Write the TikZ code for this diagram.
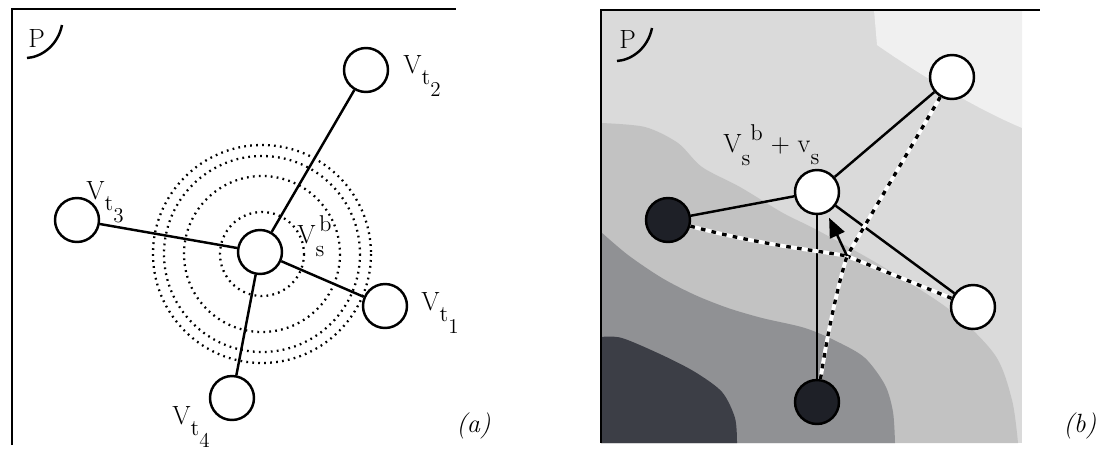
\documentclass[tikz,border=0pt]{standalone}
\usetikzlibrary{arrows.meta}
\definecolor{shadetop}{HTML}{F0F0F0}
\definecolor{shadebase}{HTML}{DADADA}
\definecolor{shadeone}{HTML}{C2C2C2}
\definecolor{shadetwo}{HTML}{909194}
\definecolor{shadethree}{HTML}{3C3E46}
\definecolor{nodeblack}{HTML}{1E2027}
\newcommand{\lblsize}{\fontsize{15}{17}\selectfont}
\newcommand{\subsize}{\fontsize{13}{14}\selectfont}
\newcommand{\subsubsize}{\fontsize{12}{13}\selectfont}
\newcommand{\Vt}[1]{V\raisebox{-6.5pt}{\subsize t\raisebox{-7pt}{\subsubsize #1}}}
\newcommand{\Vsb}[1]{V\rlap{\raisebox{-7.5pt}{\subsize s}}\hspace{#1}\raisebox{6.5pt}{\subsize b}}

\begin{document}
\begin{tikzpicture}[x=0.02cm,y=-0.02cm,
  vert/.style={circle,draw,line width=1.4pt,fill=white,minimum size=0.88cm,inner sep=0pt},
  blackvert/.style={vert,fill=nodeblack},
  link/.style={line width=1.4pt},
  ring/.style={line width=1.3pt,dash pattern=on 1pt off 2.4pt},
  panelline/.style={line width=1.2pt},
  lbl/.style={anchor=base west,inner sep=0pt,font=\lblsize},
  force/.style={preaction={draw=white,solid,line width=2.2pt},line width=1.9pt,dash pattern=on 2.6pt off 3.6pt}]
  \useasboundingbox (0,0) rectangle (1105,457);
  \begin{scope}
    \draw[panelline] (12,445) -- (12,9) -- (456,9);
    \node[lbl] (pa) at (28,47) {P};
    \draw[line width=1.4pt] (27,58) .. controls (42,57) and (58,45) .. (62,25);
    \draw[ring] (262,254) circle[radius=42];
    \draw[ring] (262,254) circle[radius=78];
    \draw[ring] (262,254) circle[radius=98];
    \draw[ring] (262,254) circle[radius=109];
    \node[vert] (vs) at (260,252) {};
    \node[vert] (vt1) at (385,306) {};
    \node[vert] (vt2) at (366,70) {};
    \node[vert] (vt3) at (77,220) {};
    \node[vert] (vt4) at (232,398) {};
    \draw[link] (vs) -- (vt1); \draw[link] (vs) -- (vt2);
    \draw[link] (vs) -- (vt3); \draw[link] (vs) -- (vt4);
    \node[lbl] (lvs) at (297,243) {\Vsb{2pt}};
    \node[lbl] (lt1) at (421,310) {\Vt{1}};
    \node[lbl] (lt2) at (403,73) {\Vt{2}};
    \node[lbl] (lt3) at (86,199) {\Vt{3}};
    \node[lbl] (lt4) at (172,424) {\Vt{4}};
    \node[lbl] (capa) at (456,432) {\textit{(a)}};
  \end{scope}
  \begin{scope}
    \begin{scope}
      \clip (601,10) rectangle (1022,443);
      \fill[shadebase] (601,10) rectangle (1022,443);
      \fill[shadetop] (874,10) -- (877,45) .. controls (920,75) and (975,108) .. (1022,128) -- (1022,10) -- cycle;
      \fill[shadeone] plot[smooth] coordinates {(601,123) (645,127) (678,143) (702,167) (740,187) (783,213) (817,230) (880,265) (950,310) (995,355) (1012,400) (1018,443)} -- (601,443) -- cycle;
      \fill[shadetwo] plot[smooth] coordinates {(601,232) (628,255) (662,278) (695,295) (728,308) (762,318) (805,328) (838,342) (865,358) (885,385) (893,412) (895,443)} -- (601,443) -- cycle;
      \fill[shadethree] plot[smooth] coordinates {(601,337) (622,338) (662,355) (695,372) (722,392) (735,418) (737,443)} -- (601,443) -- cycle;
    \end{scope}
    \draw[panelline] (601,443) -- (601,10) -- (1040,10);
    \node[lbl] (pb) at (619,48) {P};
    \draw[line width=1.4pt] (617,61) .. controls (632,60) and (648,48) .. (652,28);
    \node[vert] (main) at (817,192) {};
    \node[vert] (wnu) at (952,77) {};
    \node[vert] (wnr) at (973,307) {};
    \node[blackvert] (bnl) at (668,220) {};
    \node[blackvert] (bnb) at (817,402) {};
    \coordinate (conv) at (847,256);
    \draw[link] (main) -- (wnu); \draw[link] (main) -- (wnr);
    \draw[link] (main) -- (bnl); \draw[line width=1pt] (main) -- (bnb);
    \draw[force] (wnu) -- (conv);
    \draw[force] (wnr) -- (conv);
    \draw[force] (bnl) .. controls (760,245) and (815,250) .. (conv);
    \draw[force] (bnb) .. controls (828,330) and (838,285) .. (conv);
    \draw[line width=1.4pt,-{Triangle[length=11pt,width=9pt]},shorten >=3pt] (conv) -- (main);
    \node[lbl] (lmain) at (723,152) {\Vsb{5pt}\ + v\raisebox{-7pt}{\subsize s}};
    \node[lbl] (capb) at (1063,432) {\textit{(b)}};
  \end{scope}
\end{tikzpicture}
\end{document}
